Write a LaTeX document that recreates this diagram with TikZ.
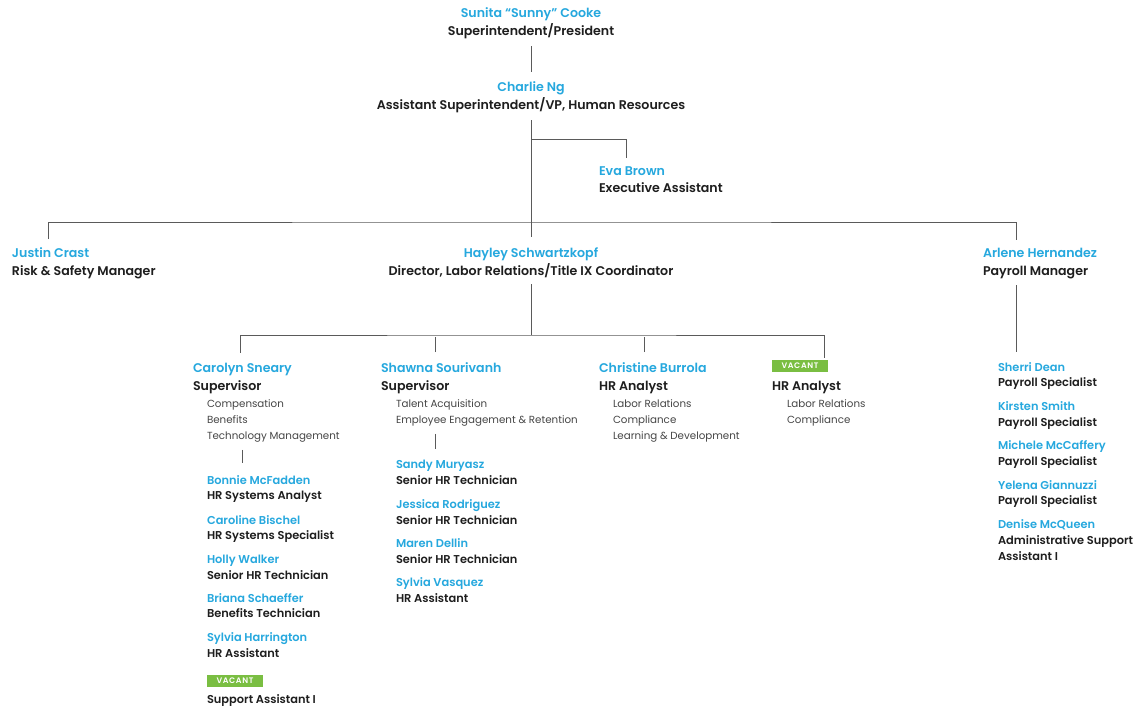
\documentclass[tikz,border=0pt]{standalone}
\usepackage{fontspec}
\setmainfont{Poppins}[BoldFont={Poppins SemiBold}]
\newfontfamily\semifont{Poppins SemiBold}[Ligatures=TeX]
\definecolor{nameblue}{RGB}{38,168,222}
\definecolor{titlegray}{RGB}{30,30,30}
\definecolor{descgray}{RGB}{70,70,70}
\definecolor{linegray}{RGB}{90,90,90}
\definecolor{vgreen}{RGB}{122,190,66}
\begin{document}
\begin{tikzpicture}[x=1pt,y=-1pt,
  every node/.style={inner sep=0pt, outer sep=0pt},
  nmA/.style={font=\semifont\fontsize{12.6}{14}\selectfont, text=nameblue},
  ttA/.style={font=\bfseries\fontsize{12.6}{14}\selectfont, text=titlegray},
  nmB/.style={font=\semifont\fontsize{11.4}{13}\selectfont, text=nameblue},
  ttB/.style={font=\bfseries\fontsize{11.4}{13}\selectfont, text=titlegray},
  dsc/.style={font=\fontsize{10.3}{12}\selectfont, text=descgray},
  badge/.style={fill=vgreen, text=white, font=\bfseries\fontsize{8}{9}\selectfont\addfontfeature{LetterSpace=8}, minimum width=56pt, minimum height=12pt, inner sep=0pt},
  ln/.style={draw=linegray, line width=0.9pt}]
\fill[white] (0,0) rectangle (1142,706);
\useasboundingbox (0,0) rectangle (1142,706);

% top
\node[nmA, anchor=base] (sunN) at (531,18) {Sunita “Sunny” Cooke};
\node[ttA, anchor=base] (sunT) at (531,36) {Superintendent/President};
\node[nmA, anchor=base] (chaN) at (531,92) {Charlie Ng};
\node[ttA, anchor=base] (chaT) at (531,110) {Assistant Superintendent/VP, Human Resources};
\node[nmA, anchor=base west] (evaN) at (599,175) {Eva Brown};
\node[ttA, anchor=base west] (evaT) at (599,192) {Executive Assistant};

% level 2
\node[nmA, anchor=base west] (jusN) at (12,257) {Justin Crast};
\node[ttA, anchor=base west] (jusT) at (12,275) {Risk \& Safety Manager};
\node[nmA, anchor=base] (hayN) at (531,257) {Hayley Schwartzkopf};
\node[ttA, anchor=base] (hayT) at (531,275) {Director, Labor Relations/Title IX Coordinator};
\node[nmA, anchor=base west] (arlN) at (983,257) {Arlene Hernandez};
\node[ttA, anchor=base west] (arlT) at (983,275) {Payroll Manager};

% Carolyn
\node[nmA, anchor=base west] (carN) at (193,372) {Carolyn Sneary};
\node[ttA, anchor=base west] (carT) at (193,390) {Supervisor};
\node[dsc, anchor=base west] (carD1) at (207,407) {Compensation};
\node[dsc, anchor=base west] (carD2) at (207,423) {Benefits};
\node[dsc, anchor=base west] (carD3) at (207,439) {Technology Management};
\node[nmB, anchor=base west] (bonN) at (207,484) {Bonnie McFadden};
\node[ttB, anchor=base west] (bonT) at (207,499) {HR Systems Analyst};
\node[nmB, anchor=base west] (croN) at (207,524) {Caroline Bischel};
\node[ttB, anchor=base west] (croT) at (207,539) {HR Systems Specialist};
\node[nmB, anchor=base west] (holN) at (207,563) {Holly Walker};
\node[ttB, anchor=base west] (holT) at (207,579) {Senior HR Technician};
\node[nmB, anchor=base west] (briN) at (207,602) {Briana Schaeffer};
\node[ttB, anchor=base west] (briT) at (207,617) {Benefits Technician};
\node[nmB, anchor=base west] (shaN) at (207,641) {Sylvia Harrington};
\node[ttB, anchor=base west] (shaT) at (207,657) {HR Assistant};
\node[badge, anchor=north west] (vac1) at (207,675) {VACANT};
\node[ttB, anchor=base west] (supT) at (207,703) {Support Assistant I};

% Shawna
\node[nmA, anchor=base west] (swnN) at (381,372) {Shawna Sourivanh};
\node[ttA, anchor=base west] (swnT) at (381,390) {Supervisor};
\node[dsc, anchor=base west] (swnD1) at (396,407) {Talent Acquisition};
\node[dsc, anchor=base west] (swnD2) at (396,423) {Employee Engagement \& Retention};
\node[nmB, anchor=base west] (sanN) at (396,468) {Sandy Muryasz};
\node[ttB, anchor=base west] (sanT) at (396,484) {Senior HR Technician};
\node[nmB, anchor=base west] (jesN) at (396,508) {Jessica Rodriguez};
\node[ttB, anchor=base west] (jesT) at (396,524) {Senior HR Technician};
\node[nmB, anchor=base west] (marN) at (396,547) {Maren Dellin};
\node[ttB, anchor=base west] (marT) at (396,563) {Senior HR Technician};
\node[nmB, anchor=base west] (svaN) at (396,586) {Sylvia Vasquez};
\node[ttB, anchor=base west] (svaT) at (396,602) {HR Assistant};

% Christine
\node[nmA, anchor=base west] (chrN) at (599,372) {Christine Burrola};
\node[ttA, anchor=base west] (chrT) at (599,390) {HR Analyst};
\node[dsc, anchor=base west] (chrD1) at (613,407) {Labor Relations};
\node[dsc, anchor=base west] (chrD2) at (613,423) {Compliance};
\node[dsc, anchor=base west] (chrD3) at (613,439) {Learning \& Development};

% Vacant analyst
\node[badge, anchor=north west] (vac2) at (772,360) {VACANT};
\node[ttA, anchor=base west] (vanT) at (772,390) {HR Analyst};
\node[dsc, anchor=base west] (vanD1) at (787,407) {Labor Relations};
\node[dsc, anchor=base west] (vanD2) at (787,423) {Compliance};

% Payroll
\node[nmB, anchor=base west] (sheN) at (998,371) {Sherri Dean};
\node[ttB, anchor=base west] (sheT) at (998,386) {Payroll Specialist};
\node[nmB, anchor=base west] (kirN) at (998,410) {Kirsten Smith};
\node[ttB, anchor=base west] (kirT) at (998,426) {Payroll Specialist};
\node[nmB, anchor=base west] (micN) at (998,449) {Michele McCaffery};
\node[ttB, anchor=base west] (micT) at (998,465) {Payroll Specialist};
\node[nmB, anchor=base west] (yelN) at (998,489) {Yelena Giannuzzi};
\node[ttB, anchor=base west] (yelT) at (998,504) {Payroll Specialist};
\node[nmB, anchor=base west] (denN) at (998,528) {Denise McQueen};
\node[ttB, anchor=base west] (denT) at (998,544) {Administrative Support};
\node[ttB, anchor=base west] (denT2) at (998,560) {Assistant I};

% junction coordinates
\coordinate (b1) at (531,139);
\coordinate (b2) at (531,222);
\coordinate (b3) at (531,335);

% connectors
\draw[ln] ([yshift=-7pt]sunT.south) -- ([yshift=10pt]chaN.north);
\draw[ln] ([yshift=-7pt]chaT.south) -- ([yshift=10pt]hayN.north);
\draw[ln] (b1) -| ([xshift=27pt,yshift=8pt]evaN.north west);
\draw[ln] ([xshift=36pt,yshift=8pt]jusN.north west) |- (b2) -| ([xshift=33pt,yshift=8pt]arlN.north west);
\draw[ln] ([xshift=33pt,yshift=-7pt]arlT.south west) -- ([xshift=18pt,yshift=10pt]sheN.north west);
\draw[ln] ([yshift=-7pt]hayT.south) -- (b3);
\draw[ln] ([xshift=47pt,yshift=10pt]carN.north west) |- (b3) -| ([xshift=52pt,yshift=2pt]vac2.north west);
\draw[ln] ([xshift=54pt,yshift=10pt]swnN.north west) -- ++(0,-15);
\draw[ln] ([xshift=45pt,yshift=10pt]chrN.north west) -- ++(0,-15);
\draw[ln] ([xshift=35pt,yshift=-8pt]carD3.south west) -- ([xshift=35pt,yshift=12pt]bonN.north west);
\draw[ln] ([xshift=39pt,yshift=-8pt]swnD2.south west) -- ([xshift=39pt,yshift=11pt]sanN.north west);
\end{tikzpicture}
\end{document}
